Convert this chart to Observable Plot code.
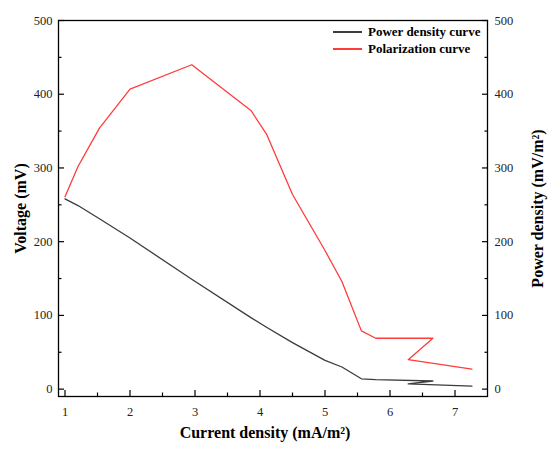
<!DOCTYPE html>
<html>
<head>
<meta charset="utf-8">
<script src="https://cdn.jsdelivr.net/npm/d3@7"></script>
<script src="https://cdn.jsdelivr.net/npm/@observablehq/plot@0.6"></script>
<style>
  html, body { margin: 0; padding: 0; background: #fff; }
  #wrap { position: relative; width: 550px; height: 452px; }
  #chart svg, #chart svg text { font-family: "Liberation Serif", "Times New Roman", serif !important; }
  #legend { position: absolute; left: 333px; top: 24px; font-family: "Liberation Serif", serif; font-weight: bold; font-size: 13px; color: #000; }
  #legend .row { display: flex; align-items: center; height: 16.5px; }
  #legend .sw { width: 29px; height: 2px; margin-right: 6px; }
</style>
</head>
<body>
<div id="wrap">
  <div id="chart"></div>
  <div id="legend"></div>
</div>
<script>
// Data
const current = [1.0, 1.2, 1.53, 2.0, 2.95, 3.86, 4.10, 4.5, 5.0, 5.26, 5.56, 5.78, 6.66, 6.28, 7.26];
const powerDensity = [258, 249, 231, 205, 149, 97, 84, 63, 39, 30, 14, 13, 11, 7, 4];
const polarization = [261, 302, 354, 407, 440, 378, 346, 264, 188, 146, 79, 69, 69, 40, 27];
const seriesNames = ["Power density curve", "Polarization curve"];
const seriesColors = ["#3c3c3c", "#ff3b3b"];
const xTicks = [1, 2, 3, 4, 5, 6, 7];
const xMinor = [1.5, 2.5, 3.5, 4.5, 5.5, 6.5];
const yTicks = [0, 100, 200, 300, 400, 500];
const yMinor = [50, 150, 250, 350, 450];

const black = current.map((x, i) => ({x, y: powerDensity[i]}));
const red = current.map((x, i) => ({x, y: polarization[i]}));

const font = "'Liberation Serif', 'Times New Roman', serif";

const chart = Plot.plot({
  width: 550,
  height: 452,
  marginLeft: 58,
  marginRight: 63,
  marginTop: 20,
  marginBottom: 56,
  style: {fontFamily: font, fontSize: "12px", color: "#000", background: "#fff"},
  x: {domain: [0.9, 7.5]},
  y: {domain: [-10, 500]},
  marks: [
    Plot.frame({stroke: "#000", strokeWidth: 1.3}),
    Plot.axisX(xTicks, {anchor: "bottom", tickSize: -6, text: null, label: null, strokeWidth: 1.2}),
    Plot.axisX(xMinor, {anchor: "bottom", tickSize: -3.5, text: null, label: null, strokeWidth: 1.2}),
    Plot.axisX(xTicks, {anchor: "bottom", tickSize: 0, tickPadding: 11, label: null, fontSize: 12.5, fill: "#222"}),
    Plot.axisY(yTicks, {anchor: "left", tickSize: -6, text: null, label: null, strokeWidth: 1.2}),
    Plot.axisY(yMinor, {anchor: "left", tickSize: -3.5, text: null, label: null, strokeWidth: 1.2}),
    Plot.axisY(yTicks, {anchor: "left", tickSize: 0, tickPadding: 6, label: null, fontSize: 12.5, fill: "#222"}),
    Plot.axisY(yTicks, {anchor: "right", tickSize: -6, text: null, label: null, strokeWidth: 1.2}),
    Plot.axisY(yMinor, {anchor: "right", tickSize: -3.5, text: null, label: null, strokeWidth: 1.2}),
    Plot.axisY(yTicks, {anchor: "right", tickSize: 0, tickPadding: 7, label: null, fontSize: 12.5, fill: "#222"}),
    Plot.line(black, {x: "x", y: "y", stroke: seriesColors[0], strokeWidth: 1.3}),
    Plot.line(red, {x: "x", y: "y", stroke: seriesColors[1], strokeWidth: 1.3}),
    Plot.text(["Current density (mA/m²)"], {frameAnchor: "bottom", textAnchor: "middle", dy: 41, dx: -8, text: d => d, fontWeight: "bold", fontSize: 16}),
    Plot.text(["Voltage (mV)"], {frameAnchor: "left", textAnchor: "middle", dx: -38, rotate: -90, text: d => d, fontWeight: "bold", fontSize: 16}),
    Plot.text(["Power density (mV/m²)"], {frameAnchor: "right", textAnchor: "middle", dx: 50, rotate: -90, text: d => d, fontWeight: "bold", fontSize: 16})
  ]
});
document.getElementById("chart").appendChild(chart);

const legend = document.getElementById("legend");
seriesNames.forEach((name, i) => {
  const row = document.createElement("div");
  row.className = "row";
  const sw = document.createElement("div");
  sw.className = "sw";
  sw.style.background = seriesColors[i];
  const t = document.createElement("span");
  t.textContent = name;
  row.appendChild(sw);
  row.appendChild(t);
  legend.appendChild(row);
});
</script>
</body>
</html>
